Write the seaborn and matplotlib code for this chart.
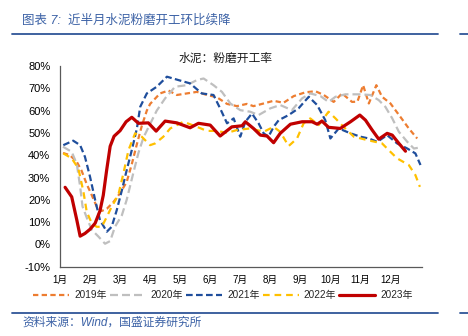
import numpy as np
import pandas as pd
import matplotlib
matplotlib.use("Agg")
import matplotlib.pyplot as plt
from matplotlib.lines import Line2D
import seaborn as sns

# ---- data (x = month position, 0 = start of Jan) ----
years = ["2019年", "2020年", "2021年", "2022年", "2023年"]

x2019 = [0.1, 0.33, 0.56, 0.72, 0.89, 1.06, 1.22, 1.39, 1.56, 1.78, 2.0, 2.22, 2.39, 2.56, 2.72,
         2.89, 3.0, 3.33, 3.61, 3.89, 4.22, 4.56, 4.89, 5.22, 5.56, 5.89, 6.22, 6.44, 6.78, 7.11,
         7.44, 7.78, 8.17, 8.5, 8.78, 9.11, 9.39, 9.72, 9.9, 10.09, 10.28, 10.53, 10.72, 11.0, 11.33,
         11.61, 11.89]
v2019 = [41, 40, 37, 33, 27, 22, 17, 15, 16, 19, 23, 28, 36, 45, 53,
         60, 63, 67.7, 69, 67, 67.7, 68.4, 67, 66, 63, 62, 63, 62, 63.2, 64.4,
         63.5, 66.5, 68.2, 68.7, 67, 63.9, 67.7, 63.9, 64, 71.4, 63.2, 71.4, 66.2, 63.2, 57.2,
         52, 47.5]

x2020 = [0.1, 0.39, 0.56, 0.67, 0.75, 0.89, 1.06, 1.28, 1.5, 1.67, 1.83, 2.06, 2.22, 2.44, 2.61,
         2.78, 3.0, 3.22, 3.5, 3.83, 4.22, 4.56, 4.78, 5.11, 5.39, 5.67, 6.0, 6.33, 6.61, 7.0,
         7.33, 7.72, 8.06, 8.33, 8.67, 8.94, 9.17, 9.5, 10.0, 10.33, 10.61, 10.83, 11.06, 11.28, 11.56,
         11.78, 12.0]
v2020 = [43.8, 41.5, 36, 26, 17, 12, 6.5, 3.5, 0.3, 1.5, 7.9, 13.1, 20, 32, 41,
         48, 54, 60, 65.5, 70.7, 71.4, 73.7, 74.4, 71.4, 68.4, 63.2, 60.2, 59.5, 58, 61,
         62.5, 60.2, 65.5, 67.7, 66.5, 63.9, 66.2, 67.3, 67.3, 67, 64.7, 61.7, 56.5, 50.5, 46,
         43, 43.5]

x2021 = [0.11, 0.44, 0.67, 0.83, 1.0, 1.17, 1.33, 1.56, 1.72, 1.89, 2.06, 2.22, 2.39, 2.56, 2.67,
         2.89, 3.22, 3.56, 3.94, 4.33, 4.72, 5.11, 5.33, 5.56, 5.78, 6.0, 6.17, 6.39, 6.61, 6.78,
         6.94, 7.11, 7.28, 7.61, 7.94, 8.28, 8.56, 8.83, 9.0, 9.28, 9.67, 10.0, 10.28, 10.56, 10.89,
         11.22, 11.56, 11.83, 12.0]
v2021 = [44.5, 46.5, 44.5, 39.3, 30.3, 19.9, 10.9, 5.7, 7.9, 15.4, 24.3, 33.3, 42.3, 52, 61.7,
         67.7, 70.7, 75.2, 73.7, 72.2, 67.7, 67, 61, 54.3, 56.5, 48.3, 55, 58.7, 54.3, 49.8,
         48.3, 52.7, 55.7, 58, 61, 66.2, 62.5, 55.7, 47.5, 52, 49.8, 48.3, 47.5, 46, 49,
         45.3, 43, 40.8, 35.6]

x2022 = [0.11, 0.39, 0.61, 0.78, 0.89, 1.06, 1.22, 1.39, 1.56, 1.72, 1.94, 2.11, 2.28, 2.5, 2.72,
         3.0, 3.17, 3.44, 3.67, 4.11, 4.56, 4.89, 5.22, 5.56, 5.89, 6.33, 6.78, 7.11, 7.33, 7.61,
         7.89, 8.11, 8.33, 8.61, 8.94, 9.17, 9.44, 9.78, 10.22, 10.72, 11.0, 11.22, 11.61, 11.83, 11.98]
v2022 = [40.8, 38.6, 34.1, 23.6, 14.6, 9.4, 7.9, 7.9, 12.4, 16.9, 22.1, 31.8, 42.3, 49.8, 48.3,
         44.5, 45.3, 48.3, 52, 55, 52.7, 50.9, 50.9, 50, 51.3, 52, 50.5, 52.7, 50.5, 44.1,
         47.5, 54.3, 56.5, 53.5, 59.5, 56.5, 52.7, 48.3, 46.8, 45.3, 41.5, 38.6, 35.6, 31.1, 25.8]

x2023 = [0.17, 0.39, 0.56, 0.67, 0.83, 1.0, 1.17, 1.33, 1.44, 1.55, 1.67, 1.8, 2.0, 2.2, 2.39,
         2.61, 2.94, 3.2, 3.5, 3.89, 4.33, 4.61, 5.0, 5.33, 5.72, 6.06, 6.17, 6.44, 6.67, 6.89,
         7.11, 7.33, 7.67, 8.06, 8.39, 8.56, 8.72, 8.94, 9.33, 9.67, 9.98, 10.17, 10.39, 10.61, 10.89,
         11.06, 11.28, 11.5]
v2023 = [25.6, 21.3, 10.9, 3.7, 4.9, 6.8, 9.5, 15, 22, 33, 44, 48.5, 51, 55, 57,
         54.3, 54.5, 50.8, 55.3, 54.5, 52.3, 54.3, 53.5, 48.6, 52.7, 53.2, 55, 52, 49, 48.6,
         45.6, 49.8, 53.9, 55, 55, 53.9, 55.3, 52.5, 52, 55, 58, 55.7, 51.3, 47.2, 49.8,
         49, 45.3, 41.8]

month_labels = ["1月", "2月", "3月", "4月", "5月", "6月", "7月", "8月", "9月", "10月", "11月", "12月"]
y_ticks = [-10, 0, 10, 20, 30, 40, 50, 60, 70, 80]

title = "图表 7:  近半月水泥粉磨开工环比续降"
chart_title = "水泥：粉磨开工率"
source = "资料来源：Wind，国盛证券研究所"

# ---- styles ----
colors = {"2019年": "#ED7D31", "2020年": "#BFBFBF", "2021年": "#1F4E9C",
          "2022年": "#FFC000", "2023年": "#C00000"}
dash_map = {"2019年": (2.4, 1.5), "2020年": (3.6, 1.8), "2021年": (3.0, 1.5),
            "2022年": (3.0, 2.2), "2023年": ""}
widths = {"2019年": 1.6, "2020年": 1.6, "2021年": 1.6, "2022年": 1.6, "2023年": 2.3}

frames = []
for yr, xs, vs in zip(years, [x2019, x2020, x2021, x2022, x2023],
                      [v2019, v2020, v2021, v2022, v2023]):
    frames.append(pd.DataFrame({"month": xs, "value": vs, "year": yr}))
df = pd.concat(frames, ignore_index=True)

sns.set_theme(style="white")
plt.rcParams["font.family"] = ["Liberation Sans", "Noto Sans CJK SC"]
plt.rcParams["axes.unicode_minus"] = False

fig = plt.figure(figsize=(4.68, 3.36), dpi=100)
ax = fig.add_axes([60 / 468, 1 - 266.7 / 336, 362 / 468, 200.7 / 336])

sns.lineplot(data=df, x="month", y="value", hue="year", style="year",
             palette=colors, dashes=dash_map, hue_order=years, style_order=years,
             estimator=None, sort=False, legend=False, ax=ax)
for ln, yr in zip(ax.lines, years):
    ln.set_linewidth(widths[yr])
    ln.set_solid_joinstyle("round")
    ln.set_dash_capstyle("butt")

ax.set_xlim(0, 12.05)
ax.set_ylim(-10, 80)
ax.set_xticks(range(12))
ax.set_xticklabels(month_labels, fontsize=7)
ax.set_yticks(y_ticks)
ax.set_yticklabels([f"{v}%" for v in y_ticks], fontsize=8)
ax.tick_params(axis="x", length=0, pad=6, colors="#000000")
ax.tick_params(axis="y", direction="in", length=3, width=0.8, pad=7, colors="#000000")
ax.set_xlabel("")
ax.set_ylabel("")
for s in ["top", "right"]:
    ax.spines[s].set_visible(False)
for s in ["left", "bottom"]:
    ax.spines[s].set_color("#595959")
    ax.spines[s].set_linewidth(0.9)

# legend
handles = [Line2D([], [], color=colors[y], lw=widths[y],
                  linestyle=(0, dash_map[y]) if dash_map[y] else "-") for y in years]
fig.legend(handles, years, loc="center", bbox_to_anchor=(223 / 468, 1 - 295 / 336),
           ncol=5, frameon=False, fontsize=7.2, handlelength=3.6, handletextpad=0.5,
           columnspacing=0.3)

# header / footer
blue = "#2F5597"
fig.text(22 / 468, 1 - 21 / 336, title, color="#3C62A6", fontsize=9, va="center",
         style="italic")
fig.add_artist(Line2D([12 / 468, 438 / 468], [1 - 34 / 336] * 2, color=blue, lw=1.3))
fig.add_artist(Line2D([460 / 468, 1.0], [1 - 34 / 336] * 2, color=blue, lw=1.3))
fig.text(226 / 468, 1 - 59 / 336, chart_title, ha="center", va="center", fontsize=8.5,
         color="#1a1a1a")
fig.add_artist(Line2D([12 / 468, 438 / 468], [1 - 313 / 336] * 2, color=blue, lw=1.3))
fig.add_artist(Line2D([460 / 468, 1.0], [1 - 313 / 336] * 2, color=blue, lw=1.3))
fig.text(22 / 468, 1 - 323 / 336, source, color="#3C62A6", fontsize=8.5, va="center",
         style="italic")

fig.savefig("out.png", dpi=100)
